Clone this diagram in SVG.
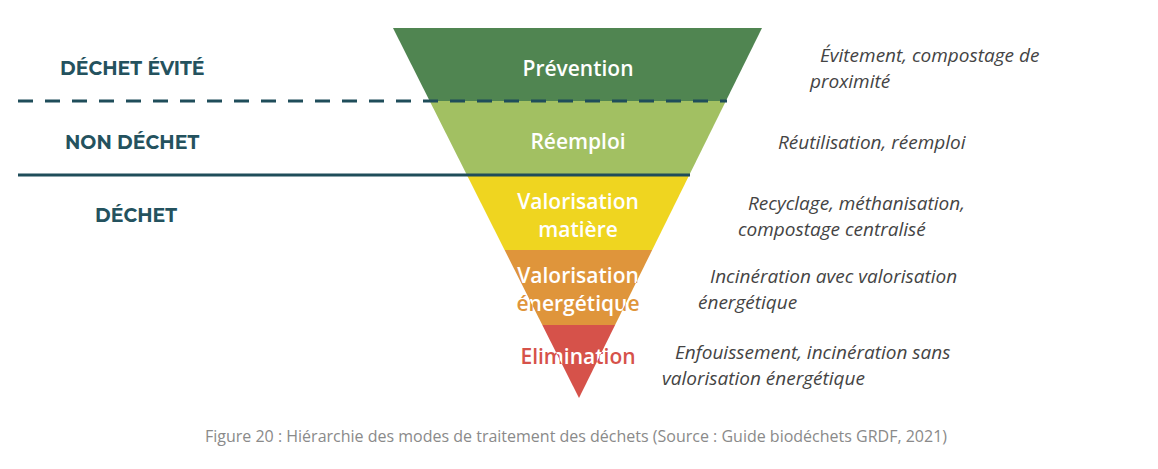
<svg xmlns="http://www.w3.org/2000/svg" width="1158" height="469" viewBox="0 0 1158 469">
<style>
.lbl{font-family:"Montserrat","Open Sans","Liberation Sans",sans-serif;font-weight:bold;font-size:19px;fill:#24525e}
.in{font-family:"Open Sans","Liberation Sans",sans-serif;font-weight:600;font-size:21px;text-anchor:middle}
.desc{font-family:"Open Sans","Liberation Sans",sans-serif;font-style:italic;font-size:19px;fill:#444}
.cap{font-family:"Open Sans","Liberation Sans",sans-serif;font-size:16px;fill:#8a8a8a;text-anchor:middle}
</style>
<defs>
<clipPath id="cOr"><polygon points="504.6,250 652.2,250 615.1,325 542.3,325"/></clipPath>
<clipPath id="cRd"><polygon points="542.3,325 615.1,325 579,398"/></clipPath>
</defs>
<rect width="1158" height="469" fill="#fff"/>
<g id="prevention"><polygon points="393,28 762,28 725.9,101 429.7,101" fill="#508551"/>
<text class="in" x="578" y="76" fill="#fff">Prévention</text></g>
<g id="reemploi"><polygon points="429.7,101 725.9,101 689.3,175 466.9,175" fill="#a2c062"/>
<text class="in" x="578" y="149" fill="#fff">Réemploi</text></g>
<g id="valmatiere"><polygon points="466.9,175 689.3,175 652.2,250 504.6,250" fill="#efd520"/>
<text class="in" x="578" y="209" fill="#fff">Valorisation</text>
<text class="in" x="578" y="237" fill="#fff">matière</text></g>
<g id="valenergie"><polygon points="504.6,250 652.2,250 615.1,325 542.3,325" fill="#df953b"/>
<text class="in" x="578" y="283" fill="#df953b">Valorisation</text>
<text class="in" x="578" y="311" fill="#df953b">énergétique</text>
<g clip-path="url(#cOr)"><text class="in" x="578" y="283" fill="#fff">Valorisation</text>
<text class="in" x="578" y="311" fill="#fff">énergétique</text></g></g>
<g id="elimination"><polygon points="542.3,325 615.1,325 579,398" fill="#d6524a"/>
<text class="in" x="578" y="364" fill="#d6524a">Elimination</text>
<g clip-path="url(#cRd)"><text class="in" x="578" y="364" fill="#fff">Elimination</text></g></g>
<g id="connectors">
<line x1="18" y1="101" x2="727" y2="101" stroke="#1f4d5a" stroke-width="3" stroke-dasharray="15,12"/>
<line x1="18" y1="175" x2="690" y2="175" stroke="#1f4d5a" stroke-width="3"/>
</g>
<g id="left-labels">
<text class="lbl" x="60" y="75">DÉCHET ÉVITÉ</text>
<text class="lbl" x="65" y="149">NON DÉCHET</text>
<text class="lbl" x="95" y="222">DÉCHET</text>
</g>
<g id="descriptions">
<text class="desc" x="820" y="62">Évitement, compostage de</text>
<text class="desc" x="810" y="88">proximité</text>
<text class="desc" x="778" y="149">Réutilisation, réemploi</text>
<text class="desc" x="748" y="210">Recyclage, méthanisation,</text>
<text class="desc" x="738" y="236">compostage centralisé</text>
<text class="desc" x="710" y="283">Incinération avec valorisation</text>
<text class="desc" x="698" y="309">énergétique</text>
<text class="desc" x="675" y="359">Enfouissement, incinération sans</text>
<text class="desc" x="662" y="385">valorisation énergétique</text>
</g>
<text class="cap" x="576" y="442">Figure 20 : Hiérarchie des modes de traitement des déchets (Source : Guide biodéchets GRDF, 2021)</text>
</svg>
